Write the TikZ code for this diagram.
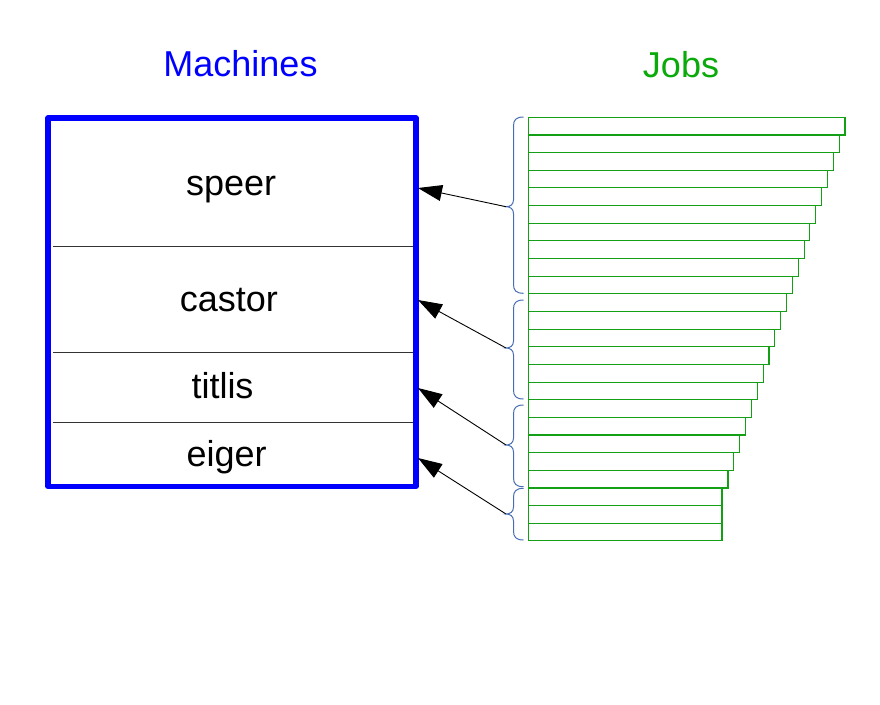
\documentclass[tikz,border=0pt]{standalone}
\usepackage{fontspec}
\setmainfont{Liberation Sans}
\usetikzlibrary{arrows.meta}
\definecolor{mblue}{RGB}{0,0,255}
\definecolor{jgreen}{RGB}{20,160,20}
\definecolor{jtitle}{RGB}{10,170,10}
\definecolor{bracec}{RGB}{70,110,180}
\begin{document}
\begin{tikzpicture}[x=1pt,y=-1pt,
  lbl/.style={font=\fontsize{36}{40}\selectfont, anchor=base, inner sep=0pt},
  jobbox/.style={draw=jgreen, line width=1.1pt, inner sep=0pt, outer sep=0pt, anchor=north west},
  brc/.style={draw=bracec, line width=1pt},
  divl/.style={draw=black!80, line width=1pt},
  conn/.style={-{Triangle[length=24pt,width=16pt]}, line width=0.9pt}]
\useasboundingbox (0,0) rectangle (880,704);
\fill[white] (0,0) rectangle (880,704);
% titles
\node[lbl, text=mblue] (mtitle) at (240.5,76.7) {Machines};
\node[lbl, text=jtitle] (jtitle) at (681,77) {Jobs};
% machine box
\node[draw=mblue, line width=5.5pt, line join=round, minimum width=367.8pt, minimum height=368.3pt,
      inner sep=0pt, outer sep=0pt, anchor=north west] (box) at (48,118) {};
\draw[divl] (53,246.7) -- (413,246.7);
\draw[divl] (53,352.3) -- (413,352.3);
\draw[divl] (53,422.7) -- (413,422.7);
\node[lbl] (speer) at (231.2,195) {speer};
\node[lbl] (castor) at (228.8,311.7) {castor};
\node[lbl] (titlis) at (222.5,398.3) {titlis};
\node[lbl] (eiger) at (226.7,466.7) {eiger};
% jobs
\foreach \k in {1,...,24}{
  \pgfmathsetmacro\yt{117.3+(\k-1)*17.65}
  \pgfmathsetmacro\xw{\k<22 ? 845-(\k-1)*5.85-528.3 : 722-528.3}
  \node[jobbox, minimum width=\xw pt, minimum height=17.65pt] (job\k) at (528.3,\yt) {};
}
% braces
\foreach \a/\b/\m/\i in {117/293.3/206.7/1, 300/399/348/2, 405/486.7/445/3, 488.3/540/514/4}{
  \draw[brc] (523.5,\a) .. controls (516,\a) and (513.5,\a+3) .. (513.5,\a+9)
    -- (513.5,\m-7) .. controls (513.5,\m-2) and (510,\m) .. (506,\m)
    .. controls (510,\m) and (513.5,\m+2) .. (513.5,\m+7)
    -- (513.5,\b-9) .. controls (513.5,\b-3) and (516,\b) .. (523.5,\b);
  \coordinate (bt\i) at (506,\m);
}
% arrow targets on the machine box
\coordinate (mt1) at (418,188);
\coordinate (mt2) at (418,300);
\coordinate (mt3) at (418,388);
\coordinate (mt4) at (418,458);
\draw[conn] (bt1) -- (mt1);
\draw[conn] (bt2) -- (mt2);
\draw[conn] (bt3) -- (mt3);
\draw[conn] (bt4) -- (mt4);
\end{tikzpicture}
\end{document}
